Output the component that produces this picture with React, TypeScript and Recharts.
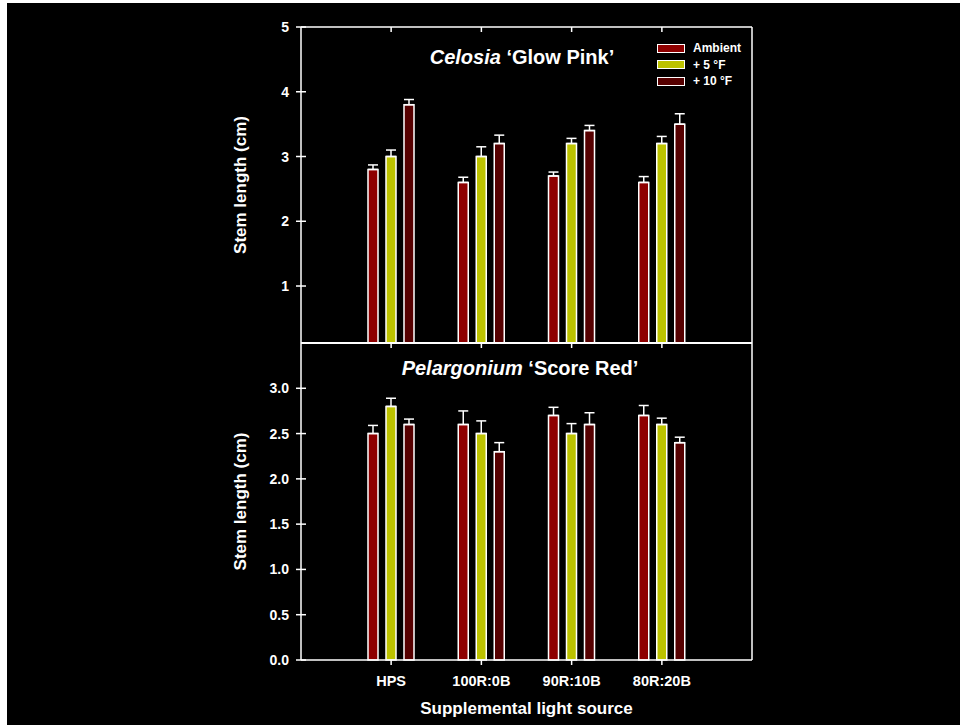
import React from 'react';
import { BarChart, Bar, XAxis, YAxis, ErrorBar, Legend, Label, ReferenceLine } from 'recharts';

const categories = ['HPS', '100R:0B', '90R:10B', '80R:20B'];
const seriesNames = ['Ambient', '+ 5 °F', '+ 10 °F'];

const celosiaAmbient = [2.8, 2.6, 2.7, 2.6];
const celosiaAmbientErr = [0.07, 0.08, 0.06, 0.09];
const celosiaPlus5 = [3.0, 3.0, 3.2, 3.2];
const celosiaPlus5Err = [0.1, 0.15, 0.08, 0.11];
const celosiaPlus10 = [3.8, 3.2, 3.4, 3.5];
const celosiaPlus10Err = [0.08, 0.13, 0.08, 0.16];

const pelargAmbient = [2.5, 2.6, 2.7, 2.7];
const pelargAmbientErr = [0.09, 0.15, 0.09, 0.11];
const pelargPlus5 = [2.8, 2.5, 2.5, 2.6];
const pelargPlus5Err = [0.09, 0.14, 0.11, 0.07];
const pelargPlus10 = [2.6, 2.3, 2.6, 2.4];
const pelargPlus10Err = [0.06, 0.1, 0.13, 0.06];

const topTicks = [1, 2, 3, 4, 5];
const bottomTicks = [0, 0.5, 1.0, 1.5, 2.0, 2.5, 3.0];

const colors = ['#8e0000', '#bcc200', '#560000'];
const FONT = '"Liberation Sans", Arial, Helvetica, sans-serif';
const WHITE = '#ffffff';

const PL = 301;
const PR = 752;
const PT = 27;
const PM = 343;
const PB = 660;

const build = (a: number[], ae: number[], b: number[], be: number[], c: number[], ce: number[]) =>
  categories.map((cat, i) => ({
    cat,
    amb: a[i],
    ambErr: [0, ae[i]],
    p5: b[i],
    p5Err: [0, be[i]],
    p10: c[i],
    p10Err: [0, ce[i]],
  }));

const celosiaData = build(celosiaAmbient, celosiaAmbientErr, celosiaPlus5, celosiaPlus5Err, celosiaPlus10, celosiaPlus10Err);
const pelargData = build(pelargAmbient, pelargAmbientErr, pelargPlus5, pelargPlus5Err, pelargPlus10, pelargPlus10Err);

const makeLeftTick = (digits: number) => (props: any) => {
  const { y, payload } = props;
  return (
    <g>
      <line x1={PL - 5} x2={PL + 5} y1={y} y2={y} stroke={WHITE} strokeWidth={1.5} />
      <text x={PL - 12} y={y} dy="0.36em" textAnchor="end" fill={WHITE} fontFamily={FONT} fontWeight="bold" fontSize={14}>
        {Number(payload.value).toFixed(digits)}
      </text>
    </g>
  );
};

const RightTick = (props: any) => {
  const { y } = props;
  return <line x1={PR - 5} x2={PR} y1={y} y2={y} stroke={WHITE} strokeWidth={1.5} />;
};

const TopCatTick = (props: any) => {
  const { x } = props;
  return <line x1={x} x2={x} y1={PT} y2={PT + 5} stroke={WHITE} strokeWidth={1.5} />;
};

const BottomCatTick = (props: any) => {
  const { x, payload } = props;
  return (
    <g>
      <line x1={x} x2={x} y1={PB} y2={PB + 5} stroke={WHITE} strokeWidth={1.5} />
      <line x1={x} x2={x} y1={PM} y2={PM + 5} stroke={WHITE} strokeWidth={1.5} />
      <text x={x} y={686} textAnchor="middle" fill={WHITE} fontFamily={FONT} fontWeight="bold" fontSize={14.5}>
        {payload.value}
      </text>
    </g>
  );
};

const yLabel = (props: any) => {
  const vb = props.viewBox || {};
  const cy = vb.y + vb.height / 2;
  return (
    <text
      x={246}
      y={cy}
      transform={`rotate(-90, 246, ${cy})`}
      textAnchor="middle"
      fill={WHITE}
      fontFamily={FONT}
      fontWeight="bold"
      fontSize={17}
    >
      Stem length (cm)
    </text>
  );
};

const xLabel = (props: any) => {
  const vb = props.viewBox || {};
  return (
    <text x={vb.x + vb.width / 2} y={714} textAnchor="middle" fill={WHITE} fontFamily={FONT} fontWeight="bold" fontSize={17}>
      Supplemental light source
    </text>
  );
};

const LegendContent = (props: any) => {
  const payload = [...(props.payload || [])].sort(
    (a: any, b: any) => seriesNames.indexOf(a.value) - seriesNames.indexOf(b.value)
  );
  return (
    <div style={{ fontFamily: FONT, fontWeight: 'bold', fontSize: 12, color: WHITE }}>
      {payload.map((p: any, i: number) => (
        <div key={i} style={{ display: 'flex', alignItems: 'center', height: 16.5 }}>
          <div style={{ width: 26, height: 7, background: p.color, border: '1.5px solid #fff', marginRight: 8 }} />
          <span style={{ lineHeight: '12px' }}>{p.value}</span>
        </div>
      ))}
    </div>
  );
};

const barProps = { stroke: WHITE, strokeWidth: 1.5, isAnimationActive: false };
const errProps = { stroke: WHITE, strokeWidth: 1.5, width: 5, direction: 'y' as const };

export default function App() {
  return (
    <div style={{ position: 'absolute', left: 0, top: 0, width: 960, height: 725, background: '#ffffff' }}>
      <div style={{ position: 'absolute', left: 7, top: 3, width: 953, height: 722, background: '#000000' }} />
      <div style={{ position: 'absolute', left: 0, top: 0 }}>
        <BarChart width={960} height={343} data={celosiaData} margin={{ top: 0, right: 0, bottom: 0, left: 0 }} barSize={10} barGap={8}>
          <XAxis
            dataKey="cat"
            orientation="top"
            height={27}
            padding={{ left: 45, right: 45 }}
            axisLine={{ stroke: WHITE, strokeWidth: 1.5 }}
            tickLine={false}
            tick={<TopCatTick />}
            interval={0}
          />
          <YAxis
            type="number"
            domain={[0.12, 5]}
            ticks={topTicks}
            width={301}
            axisLine={{ stroke: WHITE, strokeWidth: 1.5 }}
            tickLine={false}
            tick={makeLeftTick(0)}
            interval={0}
          >
            <Label content={yLabel} />
          </YAxis>
          <YAxis
            yAxisId="r"
            orientation="right"
            type="number"
            domain={[0.12, 5]}
            ticks={topTicks}
            width={208}
            axisLine={{ stroke: WHITE, strokeWidth: 1.5 }}
            tickLine={false}
            tick={<RightTick />}
            interval={0}
          />
          <Legend
            layout="vertical"
            verticalAlign="middle"
            align="center"
            content={<LegendContent />}
            wrapperStyle={{ position: 'absolute', left: 657, top: 40, width: 120 }}
          />
          <Bar dataKey="amb" name={seriesNames[0]} fill={colors[0]} {...barProps}>
            <ErrorBar dataKey="ambErr" {...errProps} />
          </Bar>
          <Bar dataKey="p5" name={seriesNames[1]} fill={colors[1]} {...barProps}>
            <ErrorBar dataKey="p5Err" {...errProps} />
          </Bar>
          <Bar dataKey="p10" name={seriesNames[2]} fill={colors[2]} {...barProps}>
            <ErrorBar dataKey="p10Err" {...errProps} />
          </Bar>
        </BarChart>
      </div>
      <div style={{ position: 'absolute', left: 0, top: 0 }}>
        <BarChart width={960} height={725} data={pelargData} margin={{ top: 343, right: 0, bottom: 0, left: 0 }} barSize={10} barGap={8}>
          <XAxis
            dataKey="cat"
            orientation="bottom"
            height={65}
            padding={{ left: 45, right: 45 }}
            axisLine={{ stroke: WHITE, strokeWidth: 1.5 }}
            tickLine={false}
            tick={<BottomCatTick />}
            interval={0}
          >
            <Label content={xLabel} />
          </XAxis>
          <YAxis
            type="number"
            domain={[0, 3.5]}
            ticks={bottomTicks}
            width={301}
            axisLine={{ stroke: WHITE, strokeWidth: 1.5 }}
            tickLine={false}
            tick={makeLeftTick(1)}
            interval={0}
          >
            <Label content={yLabel} />
          </YAxis>
          <YAxis
            yAxisId="r"
            orientation="right"
            type="number"
            domain={[0, 3.5]}
            ticks={bottomTicks}
            width={208}
            axisLine={{ stroke: WHITE, strokeWidth: 1.5 }}
            tickLine={false}
            tick={<RightTick />}
            interval={0}
          />
          <ReferenceLine y={3.5} stroke={WHITE} strokeWidth={2} />
          <Bar dataKey="amb" name={seriesNames[0]} fill={colors[0]} {...barProps}>
            <ErrorBar dataKey="ambErr" {...errProps} />
          </Bar>
          <Bar dataKey="p5" name={seriesNames[1]} fill={colors[1]} {...barProps}>
            <ErrorBar dataKey="p5Err" {...errProps} />
          </Bar>
          <Bar dataKey="p10" name={seriesNames[2]} fill={colors[2]} {...barProps}>
            <ErrorBar dataKey="p10Err" {...errProps} />
          </Bar>
        </BarChart>
      </div>
      <svg width={960} height={725} style={{ position: 'absolute', left: 0, top: 0, pointerEvents: 'none' }}>
        <text x={522} y={64} textAnchor="middle" fill={WHITE} fontFamily={FONT} fontWeight="bold" fontSize={20}>
          <tspan fontStyle="italic">Celosia</tspan>
          <tspan> ‘Glow Pink’</tspan>
        </text>
        <text x={520} y={375} textAnchor="middle" fill={WHITE} fontFamily={FONT} fontWeight="bold" fontSize={20}>
          <tspan fontStyle="italic">Pelargonium</tspan>
          <tspan> ‘Score Red’</tspan>
        </text>
      </svg>
    </div>
  );
}
